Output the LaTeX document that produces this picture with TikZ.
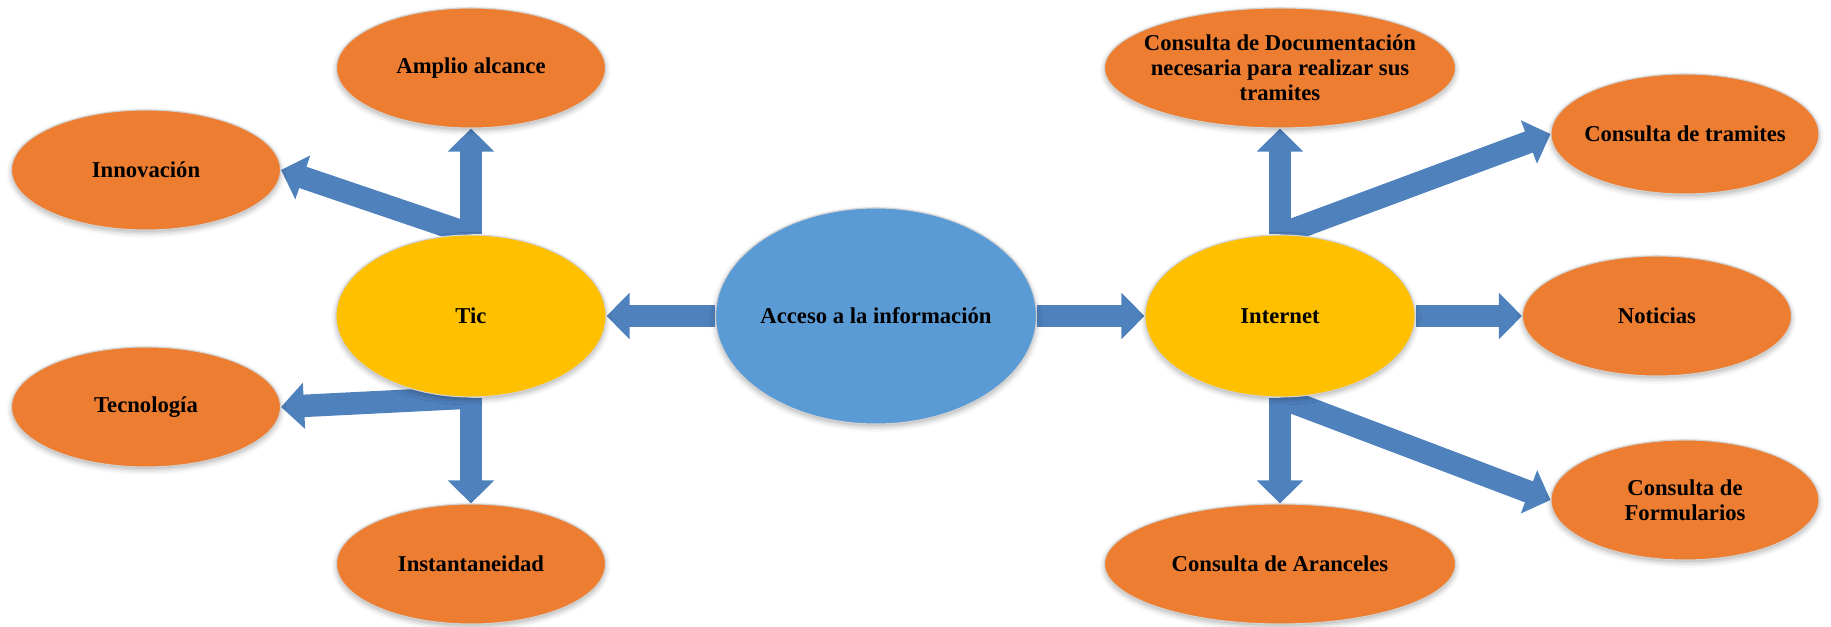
\documentclass[tikz,border=0pt]{standalone}
\usepackage{fontspec}
\setmainfont{Liberation Serif}
\usepackage{xcolor}
\usetikzlibrary{shapes.geometric}
\usetikzlibrary{shadows.blur}
\usetikzlibrary{arrows.meta}
\usetikzlibrary{backgrounds}

\definecolor{onodecol}{HTML}{ED7D31}
\definecolor{ynodecol}{HTML}{FFC000}
\definecolor{bnodecol}{HTML}{5B9BD5}
\definecolor{bedgecol}{HTML}{4F81BD}

\begin{document}
\begin{tikzpicture}[]
	%\draw[help lines] (0,0) grid (37,-13);
	\useasboundingbox (0,0) rectangle (36.62,-12.54);
	
	\tikzstyle{enode} = [ellipse,draw=gray!35,line width=0.6pt,inner sep=0pt,minimum width=5.38cm,minimum height=2.4cm,blur shadow={shadow xshift=0pt,shadow yshift=-1.5pt,shadow blur radius=3pt,shadow opacity=30}]
	\tikzstyle{onode} = [enode,fill=onodecol]
	\tikzstyle{ynode} = [enode,fill=ynodecol,minimum width=5.4cm,minimum height=3.24cm]
	\tikzstyle{bnode} = [enode,fill=bnodecol,minimum width=6.42cm,minimum height=4.32cm]
	\tikzstyle{tnode} = [font=\fontsize{12.9}{14.2}\selectfont\bfseries,align=center]
	\tikzstyle{bedge} = [draw=bedgecol,line width=0.45cm,-{Triangle[length=0.46cm,width=0.9cm]}]
	
	

\node[bnode,label={[tnode]center:Acceso a la información}] (acceso) at (17.52,-6.32) {};

\node[ynode,label={[tnode]center:Tic}] (tic) at (9.42,-6.32) {};
\node[ynode,label={[tnode]center:Internet}] (internet) at (25.6,-6.32) {};

\node[onode,label={[tnode]center:Amplio alcance}] (amplio) at (9.42,-1.36) {};
\node[onode,label={[tnode]center:Innovación}] (innov) at (2.92,-3.4) {};
\node[onode,label={[tnode]center:Tecnología}] (tecno) at (2.92,-8.14) {};
\node[onode,label={[tnode]center:Instantaneidad}] (instant) at (9.42,-11.28) {};

\node[onode,minimum width=7.02cm,label={[tnode]center:{Consulta de Documentación\\necesaria para realizar sus\\tramites}}] (docu) at (25.6,-1.36) {};
\node[onode,minimum width=5.36cm,label={[tnode]center:Consulta de tramites}] (tramites) at (33.7,-2.68) {};
\node[onode,label={[tnode]center:Noticias}] (noticias) at (33.14,-6.32) {};
\node[onode,minimum width=5.36cm,label={[tnode]center:{Consulta de\\Formularios}}] (formul) at (33.7,-10) {};
\node[onode,minimum width=7.02cm,label={[tnode]center:Consulta de Aranceles}] (arancel) at (25.6,-11.28) {};

\begin{scope}[on background layer]
\draw[bedge] (acceso) -- (tic);
\draw[bedge] (acceso) -- (internet);

\draw[bedge] (tic.north) -- (amplio);
\draw[bedge] (tic.north) -- (innov.east);
\draw[bedge] (tic.south) -- (tecno.east);
\draw[bedge] (tic.south) -- (instant);

\draw[bedge] (internet.north) -- (docu);
\draw[bedge] (internet.north) -- (tramites.west);
\draw[bedge] (internet) -- (noticias);
\draw[bedge] (internet.south) -- (formul.west);
\draw[bedge] (internet.south) -- (arancel);
\end{scope}
\end{tikzpicture}
\end{document}
